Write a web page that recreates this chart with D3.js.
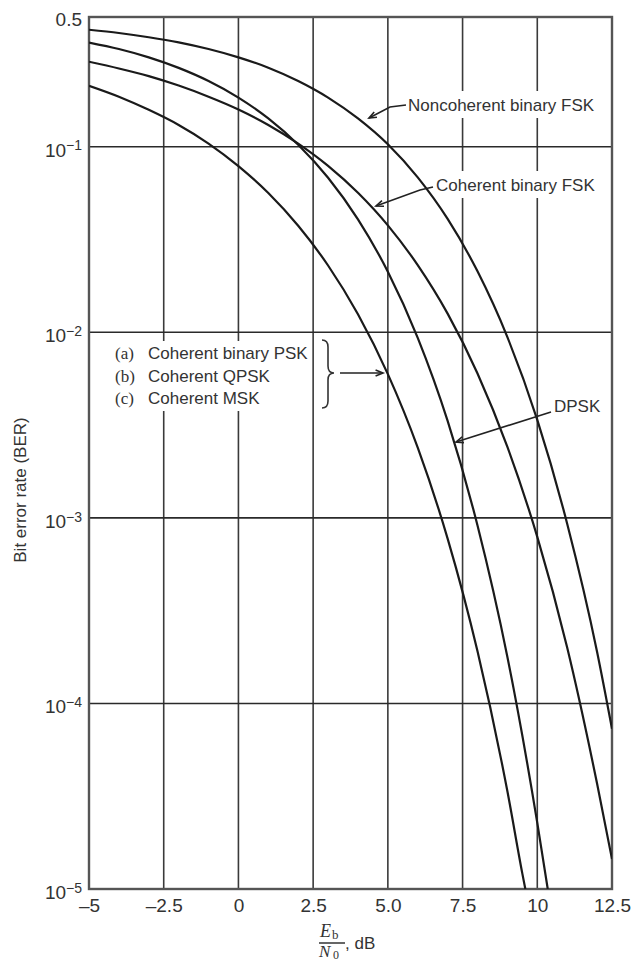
<!DOCTYPE html>
<html>
<head>
<meta charset="utf-8">
<script src="https://cdn.jsdelivr.net/npm/d3@7"></script>
<style>
  html, body { margin: 0; padding: 0; background: #fff; }
  svg { display: block; }
</style>
</head>
<body>
<div id="chart"></div>
<script>
// ---------------- data ----------------
const xTicks = [-5, -2.5, 0, 2.5, 5, 7.5, 10, 12.5];
const xTickLabels = ["–5", "–2.5", "0", "2.5", "5.0", "7.5", "10", "12.5"];
const yTicks = [0.5, 1e-1, 1e-2, 1e-3, 1e-4, 1e-5];
const yTickBase = ["0.5", "10", "10", "10", "10", "10"];
const yTickExp = ["", "−1", "−2", "−3", "−4", "−5"];

// Coherent binary PSK / QPSK / MSK
const bpskX = [-5, -4, -3, -2, -1, 0, 1, 2, 3, 4, 5, 6, 7, 8, 9, 9.5, 9.6];
const bpskBer = [0.213, 0.186, 0.158, 0.131, 0.104, 0.0786, 0.0563, 0.0375, 0.0229, 0.0125,
                 0.00595, 0.00239, 0.000773, 0.000191, 3.36e-5, 1.21e-5, 1.0e-5];
// DPSK
const dpskX = [-5, -4, -3, -2, -1, 0, 1, 2, 3, 4, 5, 6, 7, 8, 9, 10, 10.35];
const dpskBer = [0.364, 0.336, 0.303, 0.266, 0.226, 0.184, 0.142, 0.1025, 0.068, 0.0406,
                 0.0212, 0.00933, 0.00333, 0.000909, 0.000178, 2.27e-5, 1.0e-5];
// Coherent binary FSK
const cfskX = [-5, -4, -3, -2, -1, 0, 1, 2, 3, 4, 5, 6, 7, 8, 9, 10, 11, 12, 12.5];
const cfskBer = [0.287, 0.264, 0.240, 0.2135, 0.186, 0.1587, 0.131, 0.104, 0.0789, 0.0565,
                 0.0377, 0.0230, 0.0126, 0.0060, 0.00241, 0.000790, 0.000200, 3.7e-5, 1.45e-5];
// Noncoherent binary FSK
const ncfskX = [-5, -4, -3, -2, -1, 0, 1, 2, 3, 4, 5, 6, 7, 8, 9, 10, 11, 12, 12.5];
const ncfskBer = [0.427, 0.410, 0.389, 0.365, 0.336, 0.303, 0.2665, 0.226, 0.184, 0.142,
                  0.103, 0.0683, 0.0408, 0.0213, 0.00942, 0.00337, 0.000930, 0.000190, 7.3e-5];

const legendLines = [["(a)", "Coherent binary PSK"], ["(b)", "Coherent QPSK"], ["(c)", "Coherent MSK"]];

// ---------------- layout ----------------
const W = 633, H = 963;
const x = d3.scaleLinear().domain([-5, 12.5]).range([89, 612]);
const y = d3.scaleLog().domain([1e-5, 0.5]).range([889, 17]);

const svg = d3.select("#chart").append("svg").attr("width", W).attr("height", H);
const sans = "'Liberation Sans', Arial, Helvetica, sans-serif";
const serif = "'Liberation Serif', 'Times New Roman', serif";
const txt = "#333";

// grid
const grid = svg.append("g");
grid.selectAll(".vg").data(xTicks.slice(1, -1)).join("line")
  .attr("x1", d => x(d)).attr("x2", d => x(d))
  .attr("y1", y(0.5)).attr("y2", y(1e-5))
  .attr("stroke", "#3a3a3a").attr("stroke-width", 1.6);
grid.selectAll(".hg").data(yTicks.slice(1, -1)).join("line")
  .attr("x1", x(-5)).attr("x2", x(12.5))
  .attr("y1", d => y(d)).attr("y2", d => y(d))
  .attr("stroke", "#2a2a2a").attr("stroke-width", 1.6);

// white label boxes (interrupt grid)
const boxes = svg.append("g");

// frame
svg.append("rect")
  .attr("x", x(-5)).attr("y", y(0.5))
  .attr("width", x(12.5) - x(-5)).attr("height", y(1e-5) - y(0.5))
  .attr("fill", "none").attr("stroke", "#555").attr("stroke-width", 2.4);

// axis tick labels
const xAxis = d3.axisBottom(x).tickValues(xTicks)
  .tickFormat((d, i) => xTickLabels[i]).tickSize(0).tickPadding(10);
const gx = svg.append("g").attr("transform", `translate(0,${y(1e-5)})`).call(xAxis);
gx.select(".domain").remove();
gx.selectAll("text").attr("font-family", sans).attr("font-size", 19).attr("fill", txt);

const yAxis = d3.axisLeft(y).tickValues(yTicks).tickFormat("").tickSize(0);
const gy = svg.append("g").attr("transform", `translate(${x(-5)},0)`).call(yAxis);
gy.select(".domain").remove();
gy.selectAll(".tick").each(function (d, i) {
  const t = d3.select(this).append("text")
    .attr("x", -7).attr("dy", i === 0 ? "0.45em" : "0.5em")
    .attr("text-anchor", "end")
    .attr("font-family", sans).attr("font-size", 19).attr("fill", txt);
  t.append("tspan").text(yTickBase[i]);
  if (yTickExp[i]) {
    t.append("tspan").attr("dy", "-0.45em").attr("font-size", 14).text(yTickExp[i]);
  }
});

// y title
svg.append("text")
  .attr("transform", "translate(26,490) rotate(-90)")
  .attr("text-anchor", "middle")
  .attr("font-family", sans).attr("font-size", 17).attr("fill", txt)
  .text("Bit error rate (BER)");

// x title: Eb/N0, dB
const xt = svg.append("g").attr("fill", txt);
xt.append("text").attr("x", 320).attr("y", 937)
  .attr("font-family", serif).attr("font-size", 18).attr("font-style", "italic").text("E");
xt.append("text").attr("x", 332).attr("y", 939)
  .attr("font-family", serif).attr("font-size", 13).text("b");
xt.append("line").attr("x1", 319).attr("x2", 345).attr("y1", 943).attr("y2", 943)
  .attr("stroke", txt).attr("stroke-width", 1.5);
xt.append("text").attr("x", 319).attr("y", 957)
  .attr("font-family", serif).attr("font-size", 17).attr("font-style", "italic").text("N");
xt.append("text").attr("x", 333).attr("y", 959)
  .attr("font-family", serif).attr("font-size", 12).text("0");
xt.append("text").attr("x", 345).attr("y", 949)
  .attr("font-family", sans).attr("font-size", 17).text(", dB");

// curves
svg.append("clipPath").attr("id", "clip").append("rect")
  .attr("x", x(-5)).attr("y", y(0.5))
  .attr("width", x(12.5) - x(-5)).attr("height", y(1e-5) - y(0.5));
const line = d3.line().x(d => x(d[0])).y(d => y(d[1])).curve(d3.curveMonotoneX);
const series = [
  d3.zip(bpskX, bpskBer), d3.zip(dpskX, dpskBer),
  d3.zip(cfskX, cfskBer), d3.zip(ncfskX, ncfskBer)
];
svg.append("g").attr("clip-path", "url(#clip)")
  .selectAll("path").data(series).join("path")
  .attr("d", line).attr("fill", "none")
  .attr("stroke", "#1a1a1a").attr("stroke-width", 2.2);

// annotations
const ann = svg.append("g");
function label(str, lx, ly) {
  const t = ann.append("text").attr("x", lx).attr("y", ly)
    .attr("font-family", sans).attr("font-size", 17).attr("fill", txt).text(str);
  const bb = t.node().getBBox();
  boxes.append("rect").attr("x", bb.x - 2).attr("y", bb.y - 5)
    .attr("width", bb.width + 4).attr("height", bb.height + 8).attr("fill", "#fff");
  return t;
}
function arrow(pts) {
  ann.append("path").attr("d", d3.line()(pts))
    .attr("fill", "none").attr("stroke", "#222").attr("stroke-width", 1.6);
  const [p1, p0] = [pts[pts.length - 1], pts[pts.length - 2]];
  const a = Math.atan2(p1[1] - p0[1], p1[0] - p0[0]);
  const L = 8, s = 0.38;
  const h1 = [p1[0] - L * Math.cos(a - s), p1[1] - L * Math.sin(a - s)];
  const h2 = [p1[0] - L * Math.cos(a + s), p1[1] - L * Math.sin(a + s)];
  ann.append("path").attr("d", d3.line()([h1, p1, h2]))
    .attr("fill", "none").attr("stroke", "#222").attr("stroke-width", 1.6);
}

label("Noncoherent binary FSK", 408, 111);
arrow([[406, 105], [390, 107], [369, 118]]);

label("Coherent binary FSK", 436, 191);
arrow([[433, 187], [420, 190], [376, 206]]);

label("DPSK", 554, 412);
arrow([[551, 412], [456, 442]]);

legendLines.forEach((l, i) => {
  const yy = 359 + i * 22.5;
  const tA = ann.append("text").attr("x", 115).attr("y", yy)
    .attr("font-family", serif).attr("font-size", 17).attr("fill", txt).text(l[0]);
  const tB = ann.append("text").attr("x", 148).attr("y", yy)
    .attr("font-family", sans).attr("font-size", 17).attr("fill", txt).text(l[1]);
  const b1 = tA.node().getBBox(), b2 = tB.node().getBBox();
  boxes.append("rect").attr("x", b1.x - 3).attr("y", b1.y - 3)
    .attr("width", b2.x + b2.width - b1.x + 5).attr("height", b1.height + 6)
    .attr("fill", "#fff");
});
// brace
ann.append("path")
  .attr("d", "M322,340 Q328,340 328,347 L328,366 Q328,373 334,373 Q328,373 328,380 L328,401 Q328,408 322,408")
  .attr("fill", "none").attr("stroke", "#333").attr("stroke-width", 1.6);
arrow([[340, 373], [383, 373]]);
</script>
</body>
</html>
